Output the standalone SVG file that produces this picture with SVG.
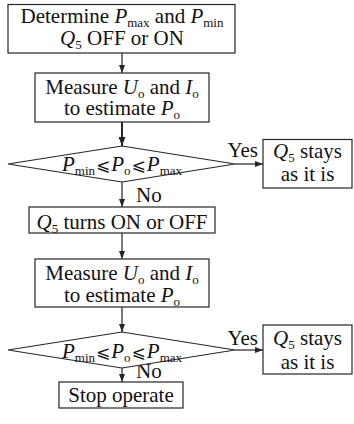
<svg xmlns="http://www.w3.org/2000/svg" width="354" height="424" viewBox="0 0 354 424">
  <style>
    .box{fill:#fff;stroke:#262626;stroke-width:1.2}
    .t{font-family:"Liberation Serif","Times New Roman",serif;font-size:21px;fill:#111}
    .i{font-style:italic}
    .s{font-size:13px;font-style:normal}
    .op{font-family:"DejaVu Sans",sans-serif;font-size:17px}
    .c{stroke:#262626;stroke-width:1.2;fill:none}
    .thick{stroke-width:2}
  </style>
  <defs>
    <marker id="ah" markerUnits="userSpaceOnUse" markerWidth="8" markerHeight="6" refX="8" refY="3" orient="auto">
      <path d="M0,0 L8,3 L0,6 z" fill="#262626"/>
    </marker>
    <marker id="ahb" markerUnits="userSpaceOnUse" markerWidth="9" markerHeight="7" refX="9" refY="3.5" orient="auto">
      <path d="M0,0 L9,3.5 L0,7 z" fill="#262626"/>
    </marker>
  </defs>

  <rect width="354" height="424" fill="#fff"/>

  <!-- connectors -->
  <g id="connectors">
    <path class="c" d="M122,53 V73" marker-end="url(#ah)"/>
    <path class="c thick" d="M122,122 V146" marker-end="url(#ahb)"/>
    <path class="c" d="M235,164 H263" marker-end="url(#ah)"/>
    <path class="c" d="M122,182 V207" marker-end="url(#ah)"/>
    <path class="c" d="M122,233 V259" marker-end="url(#ah)"/>
    <path class="c" d="M122,307 V332" marker-end="url(#ah)"/>
    <path class="c" d="M235,350 H263" marker-end="url(#ah)"/>
    <path class="c" d="M122,368 V382" marker-end="url(#ah)"/>
    <text class="t" x="258" y="157" text-anchor="end">Yes</text>
    <text class="t" x="136" y="202">No</text>
    <text class="t" x="258" y="345" text-anchor="end">Yes</text>
    <text class="t" x="136" y="378">No</text>
  </g>

  <!-- start: set limits and initial switch state -->
  <g id="init">
    <rect class="box" x="8" y="4.5" width="227" height="48.5"/>
    <text class="t" x="122" y="23" text-anchor="middle">Determine <tspan class="i">P</tspan><tspan class="s" dy="4">max</tspan><tspan dy="-4"> and </tspan><tspan class="i">P</tspan><tspan class="s" dy="4">min</tspan></text>
    <text class="t" x="122" y="45" text-anchor="middle"><tspan class="i">Q</tspan><tspan class="s" dy="4">5</tspan><tspan dy="-4"> OFF or ON</tspan></text>
  </g>

  <g id="measure1">
    <rect class="box" x="35" y="73" width="174" height="49"/>
    <text class="t" x="122" y="93.5" text-anchor="middle">Measure <tspan class="i">U</tspan><tspan class="s" dy="4">o</tspan><tspan dy="-4"> and </tspan><tspan class="i">I</tspan><tspan class="s" dy="4">o</tspan></text>
    <text class="t" x="122" y="115" text-anchor="middle">to estimate <tspan class="i">P</tspan><tspan class="s" dy="4">o</tspan></text>
  </g>

  <g id="check1">
    <path class="box" d="M8,164 L122,146 L235,164 L122,182 Z"/>
    <text class="t" x="122" y="171" text-anchor="middle"><tspan class="i">P</tspan><tspan class="s" dy="4">min</tspan><tspan class="op" dy="-4" dx="1">⩽</tspan><tspan class="i" dx="1">P</tspan><tspan class="s" dy="4">o</tspan><tspan class="op" dy="-4" dx="1">⩽</tspan><tspan class="i" dx="1">P</tspan><tspan class="s" dy="4">max</tspan></text>
  </g>

  <g id="stay1">
    <rect class="box" x="263" y="139.5" width="89" height="48.5"/>
    <text class="t" x="307.5" y="158" text-anchor="middle"><tspan class="i">Q</tspan><tspan class="s" dy="4">5</tspan><tspan dy="-4"> stays</tspan></text>
    <text class="t" x="307.5" y="181" text-anchor="middle">as it is</text>
  </g>

  <g id="toggle">
    <rect class="box" x="29" y="207" width="186" height="26"/>
    <text class="t" x="122" y="228.5" text-anchor="middle"><tspan class="i">Q</tspan><tspan class="s" dy="4">5</tspan><tspan dy="-4"> turns ON or OFF</tspan></text>
  </g>

  <g id="measure2">
    <rect class="box" x="35" y="259" width="174" height="48"/>
    <text class="t" x="122" y="279.5" text-anchor="middle">Measure <tspan class="i">U</tspan><tspan class="s" dy="4">o</tspan><tspan dy="-4"> and </tspan><tspan class="i">I</tspan><tspan class="s" dy="4">o</tspan></text>
    <text class="t" x="122" y="301.5" text-anchor="middle">to estimate <tspan class="i">P</tspan><tspan class="s" dy="4">o</tspan></text>
  </g>

  <g id="check2">
    <path class="box" d="M8,350 L122,332 L235,350 L122,368 Z"/>
    <text class="t" x="122" y="358" text-anchor="middle"><tspan class="i">P</tspan><tspan class="s" dy="4">min</tspan><tspan class="op" dy="-4" dx="1">⩽</tspan><tspan class="i" dx="1">P</tspan><tspan class="s" dy="4">o</tspan><tspan class="op" dy="-4" dx="1">⩽</tspan><tspan class="i" dx="1">P</tspan><tspan class="s" dy="4">max</tspan></text>
  </g>

  <g id="stay2">
    <rect class="box" x="263" y="325" width="89" height="49"/>
    <text class="t" x="307.5" y="345" text-anchor="middle"><tspan class="i">Q</tspan><tspan class="s" dy="4">5</tspan><tspan dy="-4"> stays</tspan></text>
    <text class="t" x="307.5" y="369" text-anchor="middle">as it is</text>
  </g>

  <g id="stop">
    <rect class="box" x="59" y="382" width="124" height="26"/>
    <text class="t" x="121" y="402" text-anchor="middle">Stop operate</text>
  </g>
</svg>
